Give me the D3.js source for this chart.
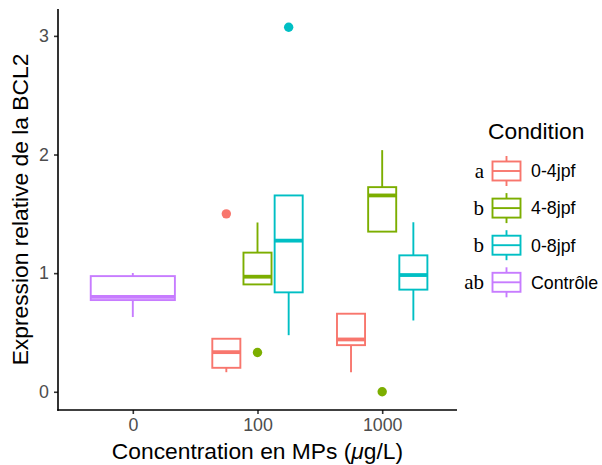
<!DOCTYPE html>
<html>
<head>
<meta charset="utf-8">
<script src="https://cdn.jsdelivr.net/npm/d3@7"></script>
<style>
  html, body { margin: 0; padding: 0; background: #fff; }
  svg { display: block; }
</style>
</head>
<body>
<svg id="chart" width="602" height="465"></svg>
<script>
// Concentration groups on the x axis and the exposure conditions
const categories = ["0", "100", "1000"];
const conditions = ["0-4jpf", "4-8jpf", "0-8jpf", "Contrôle"];
const conditionLetters = ["a", "b", "b", "ab"];
const conditionColors = ["#F8766D", "#7CAE00", "#00BFC4", "#C77CFF"];

// Box summaries, one entry per (concentration, condition) box
const boxCategory  = ["0",        "100",    "100",    "100",    "1000",   "1000",   "1000"];
const boxCondition = ["Contrôle", "0-4jpf", "4-8jpf", "0-8jpf", "0-4jpf", "4-8jpf", "0-8jpf"];
const lowerWhisker = [0.63, 0.165, 0.905, 0.477, 0.165, 1.350, 0.601];
const q1           = [0.773, 0.202, 0.905, 0.838, 0.393, 1.350, 0.861];
const median       = [0.800, 0.334, 0.970, 1.274, 0.441, 1.655, 0.984];
const q3           = [0.975, 0.447, 1.173, 1.655, 0.658, 1.725, 1.150];
const upperWhisker = [1.001, 0.447, 1.427, 1.655, 0.658, 2.037, 1.429];

// Outlying observations
const outlierCategory  = ["100",    "100",    "100",    "1000"];
const outlierCondition = ["0-4jpf", "4-8jpf", "0-8jpf", "4-8jpf"];
const outlierValue     = [1.50, 0.331, 3.073, 0.0];

const yTicks = [0, 1, 2, 3];

const svg = d3.select("#chart");
const plot = { left: 58, right: 457, top: 9, bottom: 410 };

const x = d3.scalePoint().domain(categories).range([plot.left, plot.right]).padding(0.6);
const step = x.step();

const allVals = lowerWhisker.concat(upperWhisker, outlierValue);
const [vmin, vmax] = d3.extent(allVals);
const pad = (vmax - vmin) * 0.05;
const y = d3.scaleLinear().domain([vmin - pad, vmax + pad]).range([plot.bottom, plot.top]);

const color = d3.scaleOrdinal().domain(conditions).range(conditionColors);

const lineW = 1.9;

// dodge boxes within each concentration group
function boxPlacement(cat, cond) {
  const present = conditions.filter(c =>
    boxCategory.some((bc, i) => bc === cat && boxCondition[i] === c));
  const n = present.length;
  const slot = 0.75 / n;
  const idx = present.indexOf(cond);
  const center = x(cat) + (idx - (n - 1) / 2) * slot * step;
  return { center, half: slot * 0.9 * step / 2 };
}

const boxes = boxCategory.map((cat, i) => {
  const p = boxPlacement(cat, boxCondition[i]);
  return { cat, cond: boxCondition[i], lw: lowerWhisker[i], q1: q1[i], med: median[i],
           q3: q3[i], uw: upperWhisker[i], cx: p.center, half: p.half };
});

const g = svg.append("g");

// whiskers
g.selectAll("line.whisk-up").data(boxes).join("line")
  .attr("x1", d => d.cx).attr("x2", d => d.cx)
  .attr("y1", d => y(d.q3)).attr("y2", d => y(d.uw))
  .attr("stroke", d => color(d.cond)).attr("stroke-width", lineW);
g.selectAll("line.whisk-down").data(boxes).join("line")
  .attr("x1", d => d.cx).attr("x2", d => d.cx)
  .attr("y1", d => y(d.q1)).attr("y2", d => y(d.lw))
  .attr("stroke", d => color(d.cond)).attr("stroke-width", lineW);

// boxes
g.selectAll("rect.box").data(boxes).join("rect")
  .attr("x", d => d.cx - d.half).attr("width", d => 2 * d.half)
  .attr("y", d => y(d.q3)).attr("height", d => y(d.q1) - y(d.q3))
  .attr("fill", "#fff").attr("stroke", d => color(d.cond)).attr("stroke-width", lineW);

// medians
g.selectAll("line.median").data(boxes).join("line")
  .attr("x1", d => d.cx - d.half).attr("x2", d => d.cx + d.half)
  .attr("y1", d => y(d.med)).attr("y2", d => y(d.med))
  .attr("stroke", d => color(d.cond)).attr("stroke-width", 3.8);

// outliers
const outliers = outlierValue.map((v, i) => ({
  v, cond: outlierCondition[i], cx: boxPlacement(outlierCategory[i], outlierCondition[i]).center
}));
g.selectAll("circle.out").data(outliers).join("circle")
  .attr("cx", d => d.cx).attr("cy", d => y(d.v)).attr("r", 4.7)
  .attr("fill", d => color(d.cond));

// axes
const font = "'Liberation Sans', Arial, Helvetica, sans-serif";
const xAxis = svg.append("g").attr("transform", `translate(0,${plot.bottom})`)
  .call(d3.axisBottom(x).tickSize(4).tickPadding(4));
const yAxis = svg.append("g").attr("transform", `translate(${plot.left},0)`)
  .call(d3.axisLeft(y).tickValues(yTicks).tickFormat(d3.format("d")).tickSize(4).tickPadding(5));

[xAxis, yAxis].forEach(a => {
  a.select(".domain").remove();
  a.selectAll(".tick line").attr("stroke", "#333").attr("stroke-width", 1.6);
  a.selectAll(".tick text").attr("fill", "#4D4D4D").style("font-family", font).style("font-size", "17.8px");
});
svg.append("line").attr("x1", plot.left).attr("x2", plot.left)
  .attr("y1", plot.top).attr("y2", plot.bottom + 0.8).attr("stroke", "#000").attr("stroke-width", 1.6);
svg.append("line").attr("x1", plot.left - 0.8).attr("x2", plot.right)
  .attr("y1", plot.bottom).attr("y2", plot.bottom).attr("stroke", "#000").attr("stroke-width", 1.6);

// axis titles
const xt = svg.append("text").attr("x", (plot.left + plot.right) / 2).attr("y", 459)
  .attr("text-anchor", "middle").style("font-family", font).style("font-size", "22.8px").attr("fill", "#000");
xt.append("tspan").text("Concentration en MPs (");
xt.append("tspan").style("font-style", "italic").text("μ");
xt.append("tspan").text("g/L)");

svg.append("text")
  .attr("transform", `translate(28.3,${(plot.top + plot.bottom) / 2}) rotate(-90)`)
  .attr("text-anchor", "middle").style("font-family", font).style("font-size", "22.8px")
  .text("Expression relative de la BCL2");

// legend
const leg = svg.append("g");
leg.append("text").attr("x", 488).attr("y", 139).style("font-family", font)
  .style("font-size", "22.8px").text("Condition");
const rowY = d => 171 + conditions.indexOf(d) * 37.1;
const keys = leg.selectAll("g.key").data(conditions).join("g")
  .attr("transform", d => `translate(0,${rowY(d)})`);
keys.append("line").attr("x1", 506.5).attr("x2", 506.5).attr("y1", -15).attr("y2", 15)
  .attr("stroke", d => color(d)).attr("stroke-width", lineW);
keys.append("rect").attr("x", 492.5).attr("y", -9.5).attr("width", 28).attr("height", 19)
  .attr("fill", "#fff").attr("stroke", d => color(d)).attr("stroke-width", lineW);
keys.append("line").attr("x1", 492.5).attr("x2", 520.5).attr("y1", 0).attr("y2", 0)
  .attr("stroke", d => color(d)).attr("stroke-width", lineW);
keys.append("text").attr("x", 531).attr("y", 6.3).style("font-family", font)
  .style("font-size", "17.8px").text(d => d);
keys.append("text").attr("x", 484).attr("y", 6.5).attr("text-anchor", "end")
  .style("font-family", "'Liberation Serif', 'Times New Roman', serif").style("font-size", "21px")
  .text((d, i) => conditionLetters[i]);
</script>
</body>
</html>
